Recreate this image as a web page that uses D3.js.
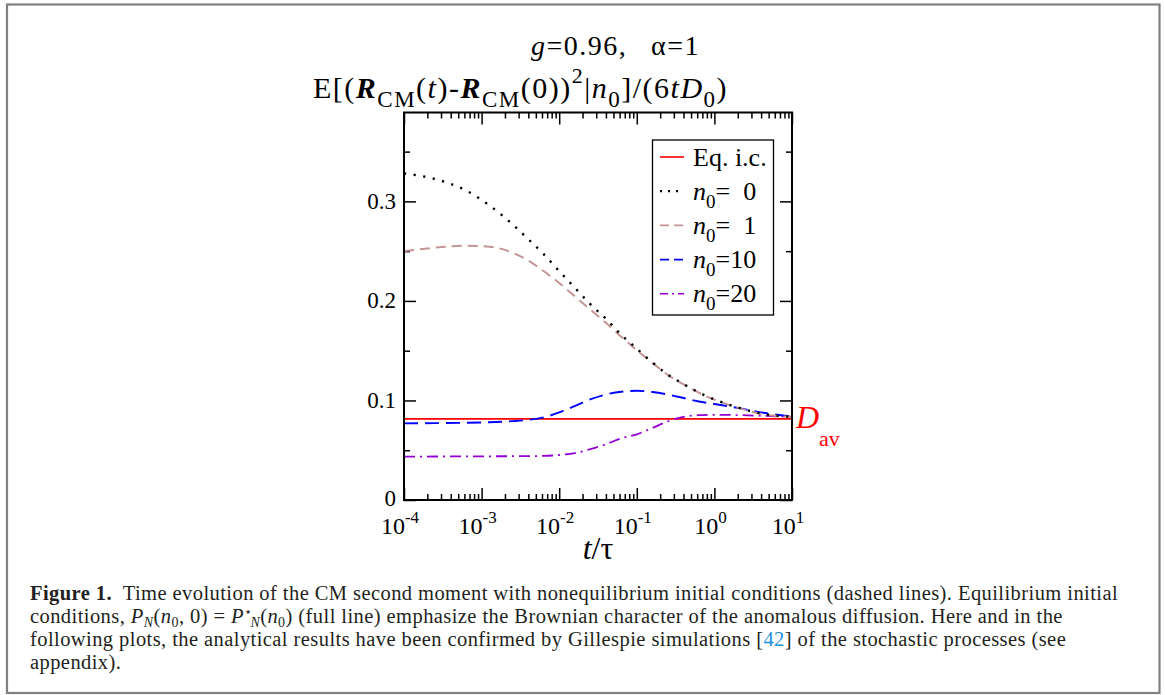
<!DOCTYPE html>
<html>
<head>
<meta charset="utf-8">
<script src="https://cdn.jsdelivr.net/npm/d3@7"></script>
<style>
  html, body { margin: 0; padding: 0; background: #fff; }
  svg { display: block; font-family: "Liberation Serif", "Times New Roman", serif; }
</style>
</head>
<body>
<svg id="fig" width="1165" height="695"></svg>
<script>
// Time grid t/tau (log-spaced)
const times = [1e-4, 2.5e-4, 6.3e-4, 1.26e-3, 2.5e-3, 4.0e-3, 6.3e-3, 1.0e-2, 1.6e-2, 2.5e-2,
               4.0e-2, 6.3e-2, 0.1, 0.16, 0.25, 0.4, 0.63, 1, 2, 4, 10];

// Normalised CM second moment for each initial occupation n0
const n0_0  = [0.328, 0.3225, 0.311, 0.296, 0.277, 0.262, 0.247, 0.230, 0.213, 0.197,
               0.182, 0.166, 0.152, 0.138, 0.126, 0.1165, 0.108, 0.101, 0.093, 0.0868, 0.0835];
const n0_1  = [0.2500, 0.2535, 0.2555, 0.2545, 0.2485, 0.2405, 0.2300, 0.2180, 0.2045, 0.1915,
               0.1780, 0.1640, 0.1505, 0.1375, 0.1258, 0.1162, 0.1078, 0.1008, 0.0928, 0.0866, 0.0834];
const n0_10 = [0.0770, 0.0772, 0.0776, 0.0781, 0.0792, 0.0805, 0.0830, 0.0880, 0.0945, 0.1010,
               0.1060, 0.1088, 0.1097, 0.1085, 0.1060, 0.1025, 0.0990, 0.0965, 0.0925, 0.0880, 0.0838];
const n0_20 = [0.0436, 0.0437, 0.0438, 0.0439, 0.0440, 0.0441, 0.0443, 0.0452, 0.0472, 0.0510,
               0.0560, 0.0620, 0.0660, 0.0725, 0.0790, 0.0835, 0.0852, 0.0856, 0.0853, 0.0846, 0.0836];

// Equilibrium initial conditions: constant D_av
const eqValue = 0.0815;

// Axis ticks
const xDecades = [1e-4, 1e-3, 1e-2, 1e-1, 1, 10];
const xExponents = ["-4", "-3", "-2", "-1", "0", "1"];
const yMajor = [0, 0.1, 0.2, 0.3];
const yLabels = ["0", "0.1", "0.2", "0.3"];
const yMinor = [0.05, 0.15, 0.25, 0.35];

// Legend entries
const legendNums = ["Eq. i.c.", " 0", " 1", "10", "20"];

const svg = d3.select("#fig");

// stretch a text element to a given width via letter spacing
function fitWidth(sel, target) {
  const node = sel.node();
  const len = node.getComputedTextLength();
  const n = node.textContent.length;
  sel.attr("letter-spacing", ((target - len) / n).toFixed(3));
}

// outer frame of the figure
svg.append("rect")
  .attr("x", 7).attr("y", 4.5).attr("width", 1152.5).attr("height", 688.5)
  .attr("fill", "none").attr("stroke", "#808080").attr("stroke-width", 2.2);

const L = 404, R = 792, T = 112.5, B = 500;
const x = d3.scaleLog().domain([1e-4, 10]).range([L, R]);
const y = d3.scaleLinear().domain([0, 0.3893]).range([B, T]);

const minorX = x.ticks().filter(v => !xDecades.some(d => Math.abs(d - v) / d < 1e-9));

// ticks (inward, all four sides)
function tickAxis(axisFn, scale, values, size, transform) {
  const g = svg.append("g").attr("transform", transform)
    .call(axisFn(scale).tickValues(values).tickSize(size).tickFormat(""));
  g.select(".domain").remove();
  g.selectAll(".tick line").attr("stroke", "#000").attr("stroke-width", 1.5);
  return g;
}
tickAxis(d3.axisBottom, x, xDecades, -12, `translate(0,${B})`);
tickAxis(d3.axisBottom, x, minorX, -6, `translate(0,${B})`);
tickAxis(d3.axisTop, x, xDecades, -12, `translate(0,${T})`);
tickAxis(d3.axisTop, x, minorX, -6, `translate(0,${T})`);
tickAxis(d3.axisLeft, y, yMajor, -12, `translate(${L},0)`);
tickAxis(d3.axisLeft, y, yMinor, -6, `translate(${L},0)`);
tickAxis(d3.axisRight, y, yMajor, -12, `translate(${R},0)`);
tickAxis(d3.axisRight, y, yMinor, -6, `translate(${R},0)`);

// x tick labels 10^k
xDecades.forEach((v, i) => {
  const t = svg.append("text").attr("x", x(v) - 4).attr("y", 534)
    .attr("text-anchor", "middle").attr("font-size", 24).attr("fill", "#000");
  t.append("tspan").text("10");
  t.append("tspan").attr("dy", -11).attr("font-size", 17).text(xExponents[i]);
});

// y tick labels
yMajor.forEach((v, i) => {
  svg.append("text").attr("x", L - 8).attr("y", y(v) + (v === 0 ? 6 : 7.5))
    .attr("text-anchor", "end").attr("font-size", 23).attr("fill", "#000")
    .text(yLabels[i]);
});

// curves
const line = d3.line().x(d => x(d[0])).y(d => y(d[1])).curve(d3.curveMonotoneX);
const series = [
  { data: n0_20, color: "#9400d3", dash: "11,5,2,5", width: 1.8 },
  { data: n0_10, color: "#0000ff", dash: "14,7", width: 1.9 },
  { data: n0_1,  color: "#c49494", dash: "10,6", width: 2.0 },
  { data: n0_0,  color: "#000000", dash: "2.2,7.5", width: 2.4 }
];

svg.append("line")
  .attr("x1", x(1e-4)).attr("x2", x(10)).attr("y1", y(eqValue)).attr("y2", y(eqValue))
  .attr("stroke", "#ff0000").attr("stroke-width", 1.8);

series.forEach(s => {
  svg.append("path")
    .datum(times.map((t, i) => [t, s.data[i]]))
    .attr("d", line).attr("fill", "none")
    .attr("stroke", s.color).attr("stroke-width", s.width)
    .attr("stroke-dasharray", s.dash);
});

// plot frame
svg.append("rect").attr("x", L).attr("y", T).attr("width", R - L).attr("height", B - T)
  .attr("fill", "none").attr("stroke", "#000").attr("stroke-width", 2);

// D_av label
const dav = svg.append("text").attr("x", 796).attr("y", 428).attr("fill", "#ff0000").attr("font-size", 32);
dav.append("tspan").attr("font-style", "italic").text("D");
dav.append("tspan").attr("dy", 18).attr("font-size", 22).text("av");

// legend
const lg = svg.append("g");
lg.append("rect").attr("x", 652.5).attr("y", 140).attr("width", 121).attr("height", 175)
  .attr("fill", "#fff").attr("stroke", "#000").attr("stroke-width", 1.3);
const legendStyles = [
  { color: "#ff0000", dash: null, width: 1.6 },
  { color: "#000000", dash: "2,6", width: 2.2 },
  { color: "#c49494", dash: "9,5", width: 1.8 },
  { color: "#0000ff", dash: "9,5", width: 1.8 },
  { color: "#9400d3", dash: "8,4,2,4", width: 1.6 }
];
legendNums.forEach((lab, i) => {
  const cy = 157 + i * 34.2;
  lg.append("line").attr("x1", 660).attr("x2", 684).attr("y1", cy).attr("y2", cy)
    .attr("stroke", legendStyles[i].color).attr("stroke-width", legendStyles[i].width)
    .attr("stroke-dasharray", legendStyles[i].dash);
  const t = lg.append("text").attr("x", 693).attr("y", cy + 8.5).attr("font-size", 26).attr("fill", "#000")
    .style("white-space", "pre");
  if (i === 0) {
    t.text(lab);
  } else {
    t.append("tspan").attr("font-style", "italic").text("n");
    t.append("tspan").attr("dy", 8).attr("font-size", 19).text("0");
    t.append("tspan").attr("dy", -8).text("=" + (lab.startsWith(" ") ? "\u2002" + lab.trim() : lab));
  }
});

// title
const title = svg.append("text").attr("x", 531).attr("y", 55).attr("font-size", 28).attr("fill", "#000")
  .style("white-space", "pre");
title.append("tspan").attr("font-style", "italic").text("g");
title.append("tspan").text("=0.96,\u2002\u00a0\u03b1=1");
fitWidth(title, 169);

// y axis label
const yl = svg.append("text").attr("x", 313).attr("y", 98).attr("font-size", 30).attr("fill", "#000");
yl.append("tspan").text("E[(");
yl.append("tspan").attr("font-weight", "bold").attr("font-style", "italic").text("R");
yl.append("tspan").attr("dy", 9).attr("font-size", 23).text("CM");
yl.append("tspan").attr("dy", -9).text("(");
yl.append("tspan").attr("font-style", "italic").text("t");
yl.append("tspan").text(")-");
yl.append("tspan").attr("font-weight", "bold").attr("font-style", "italic").text("R");
yl.append("tspan").attr("dy", 9).attr("font-size", 23).text("CM");
yl.append("tspan").attr("dy", -9).text("(0))");
yl.append("tspan").attr("dy", -15).attr("font-size", 22).text("2");
yl.append("tspan").attr("dy", 15).text("|");
yl.append("tspan").attr("font-style", "italic").text("n");
yl.append("tspan").attr("dy", 9).attr("font-size", 23).text("0");
yl.append("tspan").attr("dy", -9).text("]/(6");
yl.append("tspan").attr("font-style", "italic").text("tD");
yl.append("tspan").attr("dy", 9).attr("font-size", 23).text("0");
yl.append("tspan").attr("dy", -9).text(")");
fitWidth(yl, 415);

// x axis label
const xl = svg.append("text").attr("x", 598).attr("y", 559).attr("text-anchor", "middle")
  .attr("font-size", 32).attr("fill", "#000");
xl.append("tspan").attr("font-style", "italic").text("t");
xl.append("tspan").text("/\u03c4");

// caption
const cap = svg.append("g").attr("font-size", 20.5).attr("fill", "#231f20");
const c1 = cap.append("text").attr("x", 30).attr("y", 600).style("white-space", "pre");
c1.append("tspan").attr("font-weight", "bold").text("Figure 1.");
c1.append("tspan").text("  Time evolution of the CM second moment with nonequilibrium initial conditions (dashed lines). Equilibrium initial");

const c2 = cap.append("text").attr("x", 30).attr("y", 623);
c2.append("tspan").text("conditions, ");
c2.append("tspan").attr("font-style", "italic").text("P");
c2.append("tspan").attr("dy", 4).attr("font-size", 14).attr("font-style", "italic").text("N");
c2.append("tspan").attr("dy", -4).text("(");
c2.append("tspan").attr("font-style", "italic").text("n");
c2.append("tspan").attr("dy", 4).attr("font-size", 14).text("0");
c2.append("tspan").attr("dy", -4).text(", 0) = ");
c2.append("tspan").attr("font-style", "italic").text("P");
c2.append("tspan").attr("dy", -7).attr("font-size", 13).attr("font-family", "DejaVu Serif").text("\u22c6");
c2.append("tspan").attr("dx", -2).attr("dy", 11).attr("font-size", 14).attr("font-style", "italic").text("N");
c2.append("tspan").attr("dy", -4).text("(");
c2.append("tspan").attr("font-style", "italic").text("n");
c2.append("tspan").attr("dy", 4).attr("font-size", 14).text("0");
c2.append("tspan").attr("dy", -4).text(") (full line) emphasize the Brownian character of the anomalous diffusion. Here and in the");

const c3 = cap.append("text").attr("x", 30).attr("y", 646);
c3.append("tspan").text("following plots, the analytical results have been confirmed by Gillespie simulations [");
c3.append("tspan").attr("fill", "#1e90d8").text("42");
c3.append("tspan").text("] of the stochastic processes (see");

const c4 = cap.append("text").attr("x", 30).attr("y", 669).text("appendix).");

// common letter spacing so the first caption line spans the text block
const len1 = c1.node().getComputedTextLength();
const spacing = ((1088 - len1) / c1.node().textContent.length).toFixed(3);
[c1, c2, c3, c4].forEach(c => c.attr("letter-spacing", spacing));
</script>
</body>
</html>
